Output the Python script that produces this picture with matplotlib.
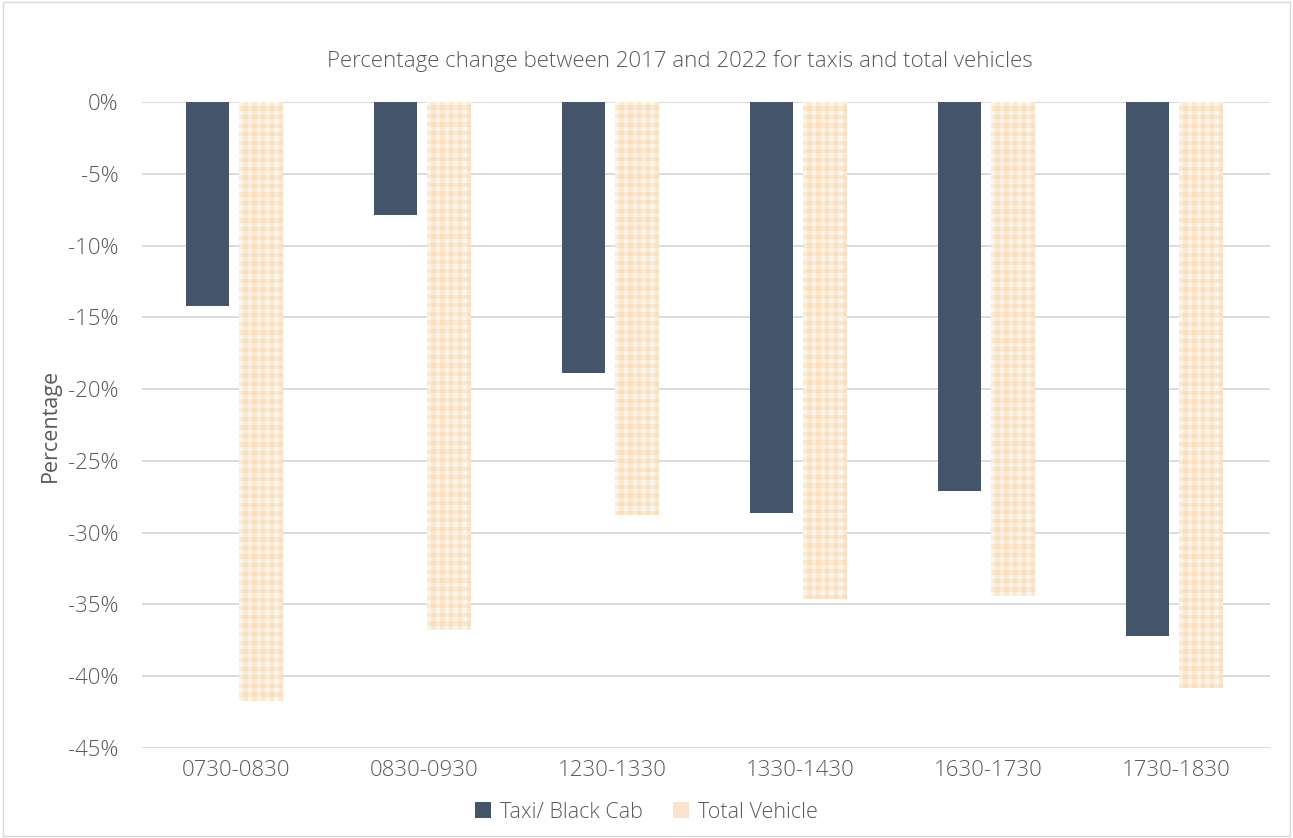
import numpy as np
import matplotlib
matplotlib.use("Agg")
import matplotlib.pyplot as plt
from matplotlib.patches import Rectangle, Patch
from matplotlib.colors import ListedColormap

categories = ["0730-0830", "0830-0930", "1230-1330", "1330-1430", "1630-1730", "1730-1830"]
taxi = [-14.2, -7.9, -18.9, -28.6, -27.1, -37.2]
total = [-41.7, -36.8, -28.8, -34.6, -34.4, -40.8]
series_names = ["Taxi/ Black Cab", "Total Vehicle"]
yticks = list(range(0, -50, -5))

plt.rcParams['font.family'] = ['Open Sans', 'DejaVu Sans']
plt.rcParams['font.weight'] = 'light'
txt = '#595959'

fig = plt.figure(figsize=(12.93, 8.38), dpi=100)
ax = fig.add_axes([0.1098, 0.1074, 0.8724, 0.7709])

x = np.arange(len(categories))
w = 0.23
b1 = ax.bar(x - 0.152, taxi, width=w, color='#44546a', zorder=3)
b2 = ax.bar(x + 0.133, total, width=w, color='none', zorder=3)

ax.set_xlim(-0.5, len(categories) - 0.5)
ax.set_ylim(-45, 0)

# gingham texture clipped to each Total Vehicle bar
cmap = ListedColormap(['#fcf5ea', '#fbe8cf', '#f9dfbf'])
px_per_unit_y = 0.7709 * 838 / 45.0
px_per_unit_x = 0.8724 * 1293 / len(categories)
cell = 4.3
for bar in b2:
    x0, y0 = bar.get_x(), bar.get_y()
    bw, bh = bar.get_width(), bar.get_height()
    nx = max(1, int(round(abs(bw) * px_per_unit_x / cell)))
    ny = max(1, int(round(abs(bh) * px_per_unit_y / cell)))
    ii = np.arange(ny)[:, None] % 2
    jj = np.arange(nx)[None, :] % 2
    img = ii + jj
    im = ax.imshow(img, cmap=cmap, vmin=0, vmax=2, interpolation='nearest',
                   extent=[x0, x0 + bw, y0 + bh, y0], aspect='auto', zorder=3)
    im.set_clip_path(bar)

ax.set_yticks(yticks)
ax.set_yticklabels([f"{t}%" for t in yticks])
ax.set_xticks(x)
ax.set_xticklabels(categories)
ax.tick_params(length=0, labelsize=16, colors=txt, pad=9)
ax.tick_params(axis='y', pad=17)
ax.grid(axis='y', color='#d9d9d9', linewidth=1.3, zorder=0)
for s in ax.spines.values():
    s.set_visible(False)
ax.set_ylabel("Percentage", fontsize=15.5, color=txt, labelpad=5)
fig.text(0.526, 0.927, "Percentage change between 2017 and 2022 for taxis and total vehicles",
         fontsize=16, color=txt, ha='center', va='center')

handles = [Patch(facecolor='#44546a'), Patch(facecolor='#fae5ca')]
fig.legend(handles, series_names, loc='center', bbox_to_anchor=(0.5, 0.031), ncol=2,
           frameon=False, fontsize=15.5, labelcolor=txt, handlelength=0.75, handleheight=0.75,
           handletextpad=0.4, columnspacing=1.4)

fig.patches.append(Rectangle((0.002, 0.002), 0.996, 0.996, transform=fig.transFigure,
                             fill=False, edgecolor='#d9d9d9', linewidth=1))
fig.savefig("out.png", dpi=100)
